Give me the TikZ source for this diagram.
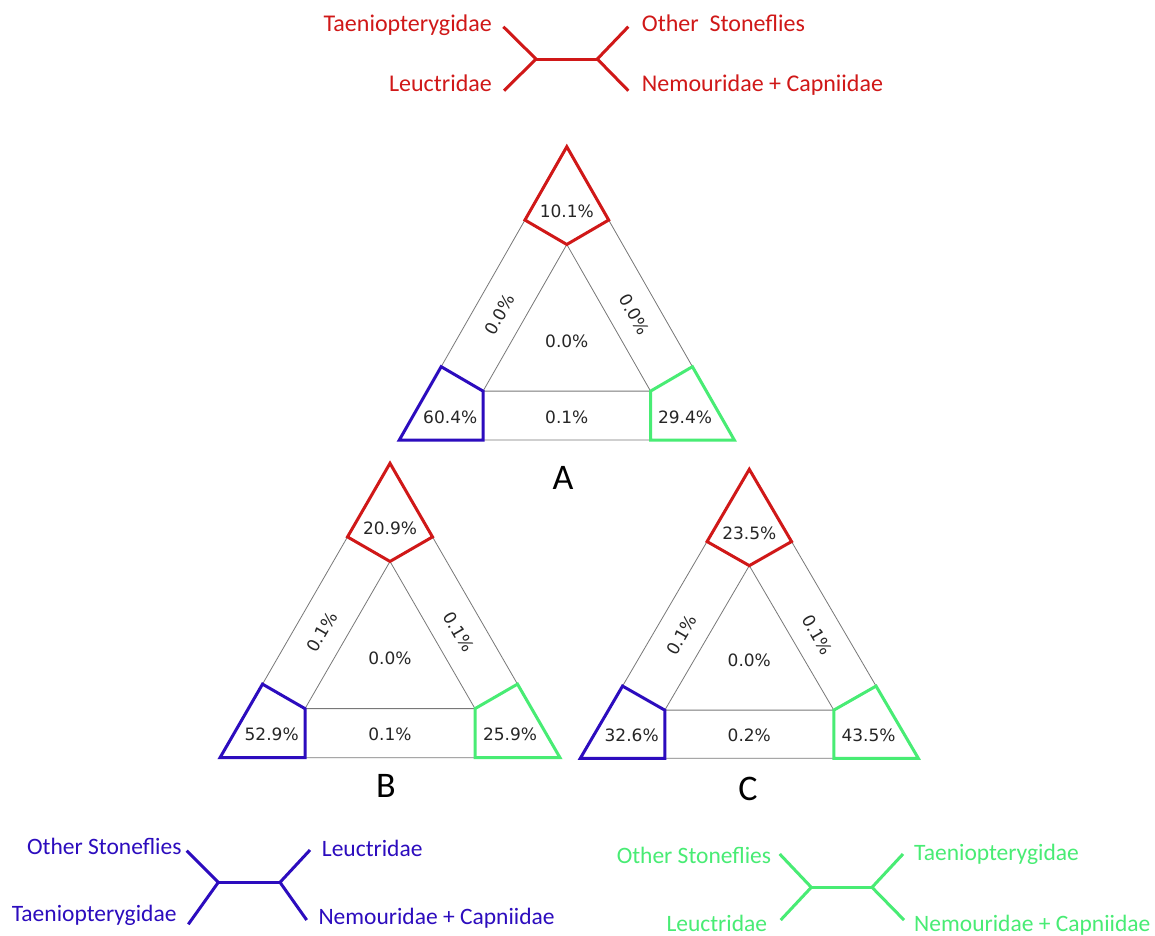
\documentclass[tikz,border=0pt]{standalone}
\usepackage{fontspec}
\setmainfont{Carlito}
\newfontfamily\pctfont{DejaVu Sans}
\usetikzlibrary{calc}

\definecolor{cred}{RGB}{208,24,24}
\definecolor{cblue}{RGB}{44,12,190}
\definecolor{cgreen}{RGB}{72,236,116}
\definecolor{cgrid}{RGB}{120,120,120}

% One ternary likelihood-mapping triangle, drawn in a local unit system:
% (0,0) bottom-left, (1,0) bottom-right, (0.5,1) apex.
% #1 prefix, #2 top, #3 left corner, #4 right corner,
% #5 left side, #6 right side, #7 bottom side, #8 centre
\newcommand\ternplot[8]{%
  \coordinate (#1a) at (0,0);
  \coordinate (#1b) at (1,0);
  \coordinate (#1c) at (0.5,1);
  \coordinate (#1l1) at (0.125,0.25);
  \coordinate (#1l3) at (0.375,0.75);
  \coordinate (#1r1) at (0.875,0.25);
  \coordinate (#1r3) at (0.625,0.75);
  \coordinate (#1ia) at (0.25,0.16667);
  \coordinate (#1ib) at (0.75,0.16667);
  \coordinate (#1ic) at (0.5,0.66667);
  \coordinate (#1qa) at (0.25,0);
  \coordinate (#1qb) at (0.75,0);
  % grey frame: outer and inner triangles
  \draw[gridline] (#1a) -- (#1b) -- (#1c) -- cycle;
  \draw[gridline] (#1ia) -- (#1ib) -- (#1ic) -- cycle;
  % corner regions
  \draw[corner, cred] (#1c) -- (#1l3) -- (#1ic) -- (#1r3) -- cycle;
  \draw[corner, cblue] (#1a) -- (#1l1) -- (#1ia) -- (#1qa) -- cycle;
  \draw[corner, cgreen] (#1b) -- (#1r1) -- (#1ib) -- (#1qb) -- cycle;
  % percentages
  \node[pct] (#1pt) at (0.5,0.779) {#2};
  \node[pct] (#1pl) at (0.152,0.078) {#3};
  \node[pct] (#1pr) at (0.853,0.078) {#4};
  \node[pct, rotate=60] (#1psl) at (0.300,0.428) {#5};
  \node[pct, rotate=-60] (#1psr) at (0.702,0.428) {#6};
  \node[pct] (#1psb) at (0.5,0.078) {#7};
  \node[pct] (#1pc) at (0.5,0.338) {#8};
}

\begin{document}
\begin{tikzpicture}[x=1pt, y=-1pt,
  gridline/.style={draw=cgrid, line width=0.8pt},
  corner/.style={line width=3pt, line join=miter},
  pct/.style={font=\pctfont\fontsize{17}{20}\selectfont, text=black!85, inner sep=0pt},
  treelbl/.style={font=\fontsize{24}{28}\selectfont, inner sep=0pt},
  smalllbl/.style={font=\fontsize{23.5}{28}\selectfont, inner sep=0pt},
  branch/.style={line width=3pt},
  panel/.style={font=\fontsize{36}{40}\selectfont, text=black, inner sep=0pt}]

\useasboundingbox[fill=white] (0,0) rectangle (1155,935);

% ---- triangle A ----
\begin{scope}[shift={(399.3,440)}, x={(335pt,0pt)}, y={(0pt,293.3pt)}]
  \ternplot{A}{10.1\%}{60.4\%}{29.4\%}{0.0\%}{0.0\%}{0.1\%}{0.0\%}
\end{scope}
\node[panel] (lblA) at (563,478) {A};

% ---- triangle B ----
\begin{scope}[shift={(220,757.7)}, x={(340pt,0pt)}, y={(0pt,294.4pt)}]
  \ternplot{B}{20.9\%}{52.9\%}{25.9\%}{0.1\%}{0.1\%}{0.1\%}{0.0\%}
\end{scope}
\node[panel] (lblB) at (386,786) {B};

% ---- triangle C ----
\begin{scope}[shift={(580.3,758.3)}, x={(338pt,0pt)}, y={(0pt,289pt)}]
  \ternplot{C}{23.5\%}{32.6\%}{43.5\%}{0.1\%}{0.1\%}{0.2\%}{0.0\%}
\end{scope}
\node[panel] (lblC) at (748,789) {C};

% ---- red tree ----
\begin{scope}[every node/.style={treelbl, text=cred}]
  \node[anchor=base east] (rTL) at (492,31.7) {Taeniopterygidae};
  \node[anchor=base east] (rBL) at (492,91.7) {Leuctridae};
  \node[anchor=base west] (rTR) at (641.7,31.7) {Other\ \ Stoneflies};
  \node[anchor=base west] (rBR) at (641.7,91.7) {Nemouridae + Capniidae};
\end{scope}
\coordinate (rul) at (503.3,26.7);
\coordinate (rll) at (504,90.7);
\coordinate (rjl) at (536,59);
\coordinate (rjr) at (597.3,59);
\coordinate (rur) at (628.3,26.7);
\coordinate (rlr) at (628.3,90.7);
\draw[branch, cred] (rul) -- (rjl) -- (rll);
\draw[branch, cred] (rjl) -- (rjr);
\draw[branch, cred] (rur) -- (rjr) -- (rlr);

% ---- blue tree ----
\begin{scope}[every node/.style={smalllbl, text=cblue}]
  \node[anchor=base east] (bTL) at (181.7,854) {Other Stoneflies};
  \node[anchor=base east] (bBL) at (176.7,921.7) {Taeniopterygidae};
  \node[anchor=base west] (bTR) at (321.7,856.7) {Leuctridae};
  \node[anchor=base west] (bBR) at (318.3,924) {Nemouridae + Capniidae};
\end{scope}
\coordinate (bul) at (186.7,850.7);
\coordinate (bll) at (188.3,924.3);
\coordinate (bjl) at (218.3,882.3);
\coordinate (bjr) at (280,882.3);
\coordinate (bur) at (310,850);
\coordinate (blr) at (306.7,920);
\draw[branch, cblue] (bul) -- (bjl) -- (bll);
\draw[branch, cblue] (bjl) -- (bjr);
\draw[branch, cblue] (bur) -- (bjr) -- (blr);

% ---- green tree ----
\begin{scope}[every node/.style={smalllbl, text=cgreen}]
  \node[anchor=base east] (gTL) at (771.3,863.3) {Other Stoneflies};
  \node[anchor=base east] (gBL) at (767.3,931) {Leuctridae};
  \node[anchor=base west] (gTR) at (914,860.7) {Taeniopterygidae};
  \node[anchor=base west] (gBR) at (914,931) {Nemouridae + Capniidae};
\end{scope}
\coordinate (gul) at (779.7,854);
\coordinate (gll) at (780.7,920);
\coordinate (gjl) at (811.3,887.3);
\coordinate (gjr) at (872,887.3);
\coordinate (gur) at (903,854);
\coordinate (glr) at (904,920);
\draw[branch, cgreen] (gul) -- (gjl) -- (gll);
\draw[branch, cgreen] (gjl) -- (gjr);
\draw[branch, cgreen] (gur) -- (gjr) -- (glr);

\end{tikzpicture}
\end{document}
